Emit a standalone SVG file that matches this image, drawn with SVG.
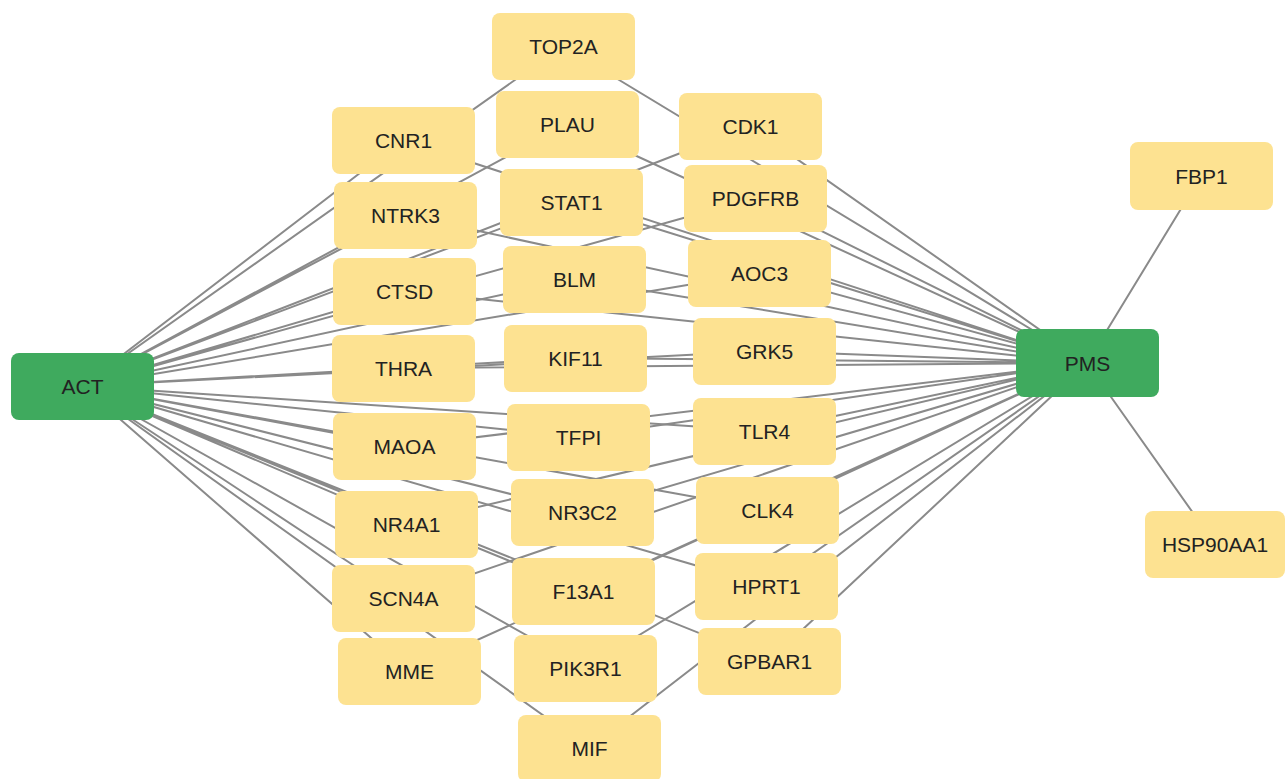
<svg xmlns="http://www.w3.org/2000/svg" width="1285" height="779" viewBox="0 0 1285 779">
<style>
.e{stroke:#8a8a8a;stroke-width:2;fill:none}
.n rect{fill:#fde291}
.h rect{fill:#3faa5e}
text{font-family:"Liberation Sans",Arial,sans-serif;font-size:21px;fill:#222;text-anchor:middle}
</style>
<rect width="1285" height="779" fill="#fff"/>
<g id="edges">
<path class="e" d="M82,386L563,46M82,386L403,140M82,386L567,124M82,386L750,126M82,386L405,215M82,386L571,202M82,386L755,198M82,386L404,291M82,386L574,279M82,386L759,273M82,386L403,368M82,386L575,358M82,386L764,351M82,386L404,446M82,386L578,437M82,386L764,431M82,386L406,524M82,386L582,512M82,386L767,510M82,386L403,598M82,386L583,591M82,386L766,586M82,386L409,671M82,386L585,668M82,386L769,661M82,386L589,748"/>
<path class="e" d="M1087,363L563,46M1087,363L403,140M1087,363L567,124M1087,363L750,126M1087,363L405,215M1087,363L571,202M1087,363L755,198M1087,363L404,291M1087,363L574,279M1087,363L759,273M1087,363L403,368M1087,363L575,358M1087,363L764,351M1087,363L404,446M1087,363L578,437M1087,363L764,431M1087,363L406,524M1087,363L582,512M1087,363L767,510M1087,363L403,598M1087,363L583,591M1087,363L766,586M1087,363L409,671M1087,363L585,668M1087,363L769,661M1087,363L589,748M1087,363L1201,176M1087,363L1215,544"/>
</g>
<g id="ACT" class="h"><rect x="11" y="353" width="143" height="67" rx="8"/><text x="82.5" y="394">ACT</text></g>
<g id="PMS" class="h"><rect x="1016" y="329" width="143" height="68" rx="8"/><text x="1087.5" y="371">PMS</text></g>
<g id="TOP2A" class="n"><rect x="492" y="13" width="143" height="67" rx="8"/><text x="563.5" y="54">TOP2A</text></g>
<g id="CNR1" class="n"><rect x="332" y="107" width="143" height="67" rx="8"/><text x="403.5" y="148">CNR1</text></g>
<g id="PLAU" class="n"><rect x="496" y="91" width="143" height="67" rx="8"/><text x="567.5" y="132">PLAU</text></g>
<g id="CDK1" class="n"><rect x="679" y="93" width="143" height="67" rx="8"/><text x="750.5" y="134">CDK1</text></g>
<g id="NTRK3" class="n"><rect x="334" y="182" width="143" height="67" rx="8"/><text x="405.5" y="223">NTRK3</text></g>
<g id="STAT1" class="n"><rect x="500" y="169" width="143" height="67" rx="8"/><text x="571.5" y="210">STAT1</text></g>
<g id="PDGFRB" class="n"><rect x="684" y="165" width="143" height="67" rx="8"/><text x="755.5" y="206">PDGFRB</text></g>
<g id="CTSD" class="n"><rect x="333" y="258" width="143" height="67" rx="8"/><text x="404.5" y="299">CTSD</text></g>
<g id="BLM" class="n"><rect x="503" y="246" width="143" height="67" rx="8"/><text x="574.5" y="287">BLM</text></g>
<g id="AOC3" class="n"><rect x="688" y="240" width="143" height="67" rx="8"/><text x="759.5" y="281">AOC3</text></g>
<g id="THRA" class="n"><rect x="332" y="335" width="143" height="67" rx="8"/><text x="403.5" y="376">THRA</text></g>
<g id="KIF11" class="n"><rect x="504" y="325" width="143" height="67" rx="8"/><text x="575.5" y="366">KIF11</text></g>
<g id="GRK5" class="n"><rect x="693" y="318" width="143" height="67" rx="8"/><text x="764.5" y="359">GRK5</text></g>
<g id="MAOA" class="n"><rect x="333" y="413" width="143" height="67" rx="8"/><text x="404.5" y="454">MAOA</text></g>
<g id="TFPI" class="n"><rect x="507" y="404" width="143" height="67" rx="8"/><text x="578.5" y="445">TFPI</text></g>
<g id="TLR4" class="n"><rect x="693" y="398" width="143" height="67" rx="8"/><text x="764.5" y="439">TLR4</text></g>
<g id="NR4A1" class="n"><rect x="335" y="491" width="143" height="67" rx="8"/><text x="406.5" y="532">NR4A1</text></g>
<g id="NR3C2" class="n"><rect x="511" y="479" width="143" height="67" rx="8"/><text x="582.5" y="520">NR3C2</text></g>
<g id="CLK4" class="n"><rect x="696" y="477" width="143" height="67" rx="8"/><text x="767.5" y="518">CLK4</text></g>
<g id="SCN4A" class="n"><rect x="332" y="565" width="143" height="67" rx="8"/><text x="403.5" y="606">SCN4A</text></g>
<g id="F13A1" class="n"><rect x="512" y="558" width="143" height="67" rx="8"/><text x="583.5" y="599">F13A1</text></g>
<g id="HPRT1" class="n"><rect x="695" y="553" width="143" height="67" rx="8"/><text x="766.5" y="594">HPRT1</text></g>
<g id="MME" class="n"><rect x="338" y="638" width="143" height="67" rx="8"/><text x="409.5" y="679">MME</text></g>
<g id="PIK3R1" class="n"><rect x="514" y="635" width="143" height="67" rx="8"/><text x="585.5" y="676">PIK3R1</text></g>
<g id="GPBAR1" class="n"><rect x="698" y="628" width="143" height="67" rx="8"/><text x="769.5" y="669">GPBAR1</text></g>
<g id="MIF" class="n"><rect x="518" y="715" width="143" height="67" rx="8"/><text x="589.5" y="756">MIF</text></g>
<g id="FBP1" class="n"><rect x="1130" y="142" width="143" height="68" rx="8"/><text x="1201.5" y="184">FBP1</text></g>
<g id="HSP90AA1" class="n"><rect x="1145" y="511" width="140" height="67" rx="8"/><text x="1215" y="552">HSP90AA1</text></g>
</svg>
